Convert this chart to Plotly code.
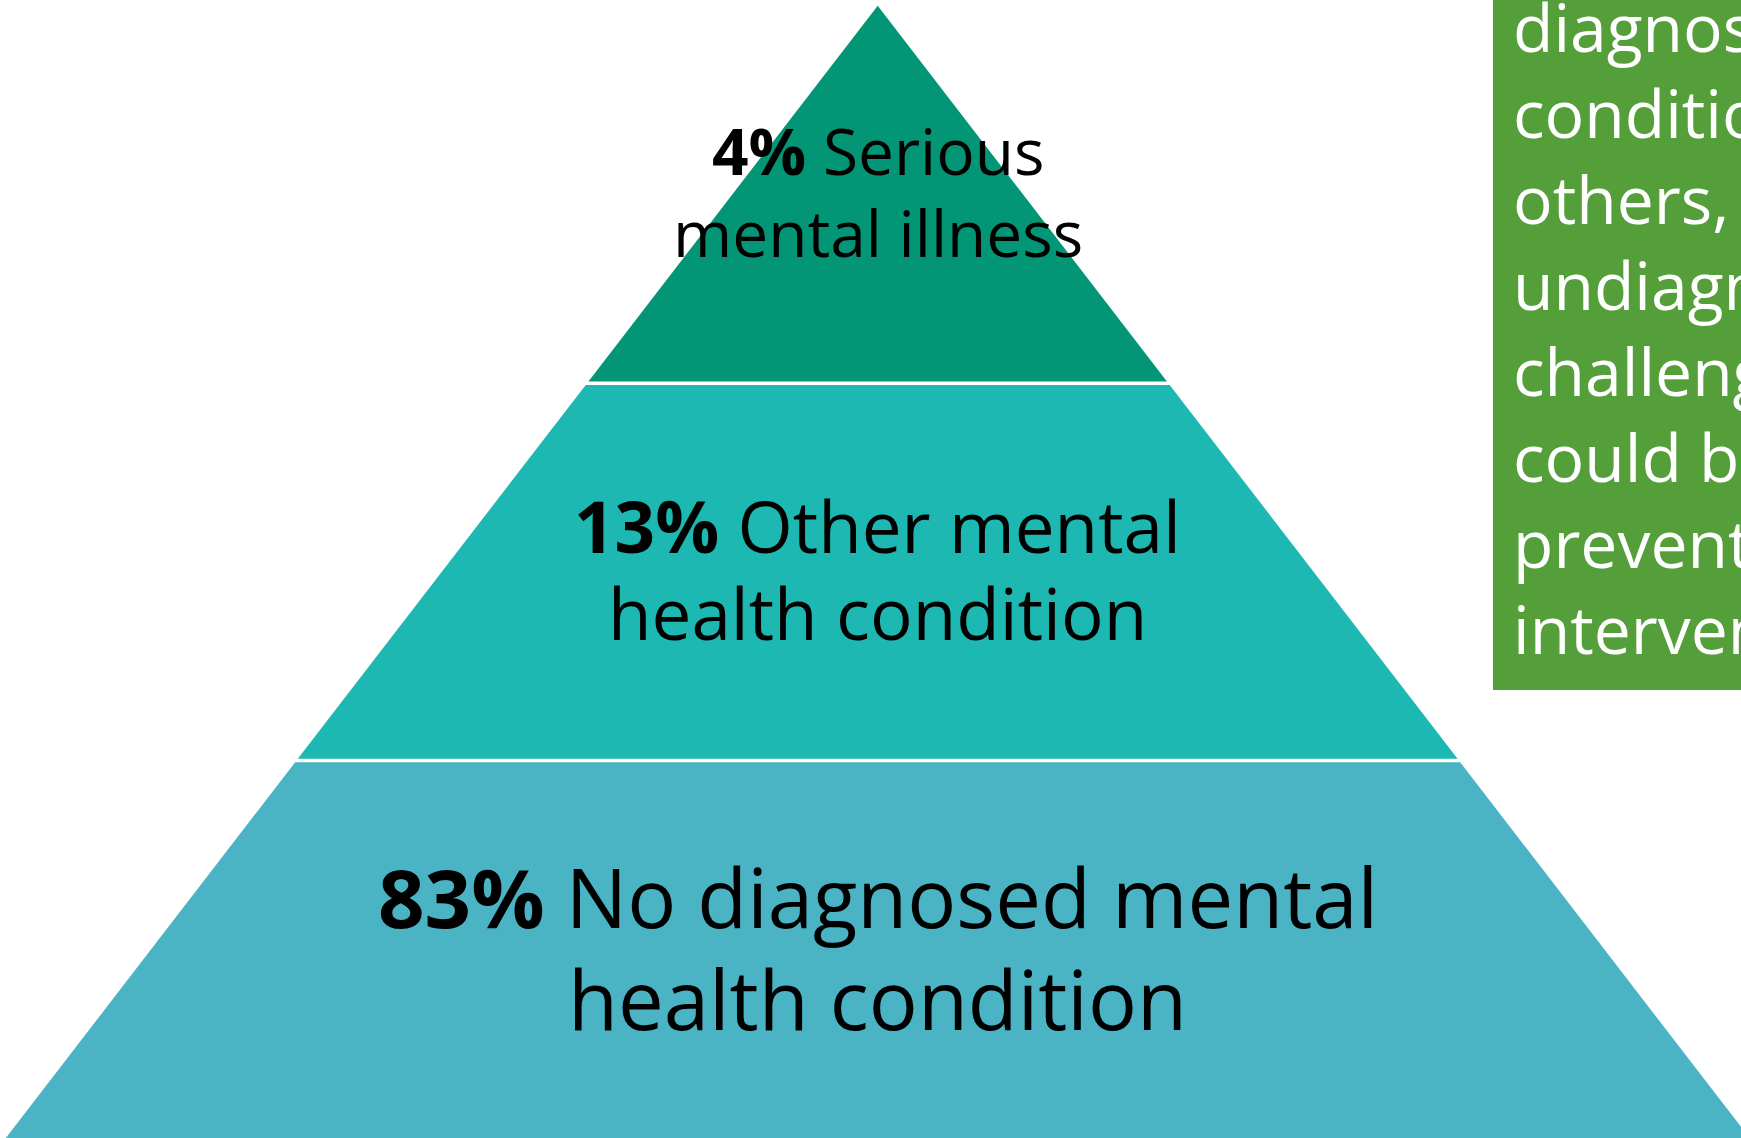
import plotly.graph_objects as go

# Population shares shown in each tier of the pyramid (top to bottom)
tier_pcts = ["4%", "13%", "83%"]
tier_first_lines = ["Serious", "Other mental", "No diagnosed mental"]
tier_second_lines = ["mental illness", "health condition", "health condition"]
tier_colors = ["#039676", "#1CB8B1", "#4AB4C5"]

# Call-out text in the green side panel
note_lines = ["diagnosed", "condition", "others,", "undiagnosed",
              "challenges", "could be", "prevented", "intervention"]

W, H = 1741, 1138
FONT = "Open Sans"

# Pyramid geometry (pixel-based axes)
apex_x, apex_y = 877.7, 5.7
tier_h = (H - apex_y) / 3
slope = 0.77  # half-width gained per unit of depth

def half_width(y):
    return (y - apex_y) * slope

fig = go.Figure()

for i, color in enumerate(tier_colors):
    y0 = apex_y + i * tier_h
    y1 = apex_y + (i + 1) * tier_h
    w0, w1 = half_width(y0), half_width(y1)
    fig.add_trace(go.Scatter(
        x=[apex_x - w0, apex_x + w0, apex_x + w1, apex_x - w1, apex_x - w0],
        y=[y0, y0, y1, y1, y0],
        mode="lines", fill="toself", fillcolor=color,
        line=dict(width=0, color=color), hoverinfo="skip", showlegend=False,
    ))

# White separators between tiers
for i in (1, 2):
    yb = apex_y + i * tier_h
    wb = half_width(yb) + 2
    fig.add_trace(go.Scatter(
        x=[apex_x - wb, apex_x + wb], y=[yb, yb], mode="lines",
        line=dict(color="white", width=3.5), hoverinfo="skip", showlegend=False,
    ))

# Tier labels: (font size, baseline of line 1, baseline of line 2)
label_style = [(64, 175, 257), (71, 553, 640), (81.5, 928, 1030)]
for pct, l1, l2, (size, b1, b2) in zip(tier_pcts, tier_first_lines,
                                       tier_second_lines, label_style):
    for txt, base in ((f"<b>{pct}</b> {l1}", b1), (l2, b2)):
        fig.add_annotation(
            x=apex_x, y=base - 0.388 * size, xref="x", yref="y",
            text=txt, showarrow=False, xanchor="center", yanchor="middle",
            font=dict(family=FONT, size=size, color="black"),
        )

# Green call-out panel
fig.add_shape(type="rect", xref="x", yref="y", x0=1493, x1=W + 20,
              y0=-20, y1=690, fillcolor="#549F3A", line=dict(width=0),
              layer="below")

note_size = 66
for k, txt in enumerate(note_lines):
    base = 52 + k * 86
    fig.add_annotation(
        x=1511, y=base - 0.388 * note_size, xref="x", yref="y",
        text=txt, showarrow=False, xanchor="left", yanchor="middle",
        font=dict(family=FONT, size=note_size, color="white"),
    )

fig.update_xaxes(range=[0, W], visible=False, fixedrange=True)
fig.update_yaxes(range=[H, 0], visible=False, fixedrange=True)
fig.update_layout(
    width=W, height=H, margin=dict(l=0, r=0, t=0, b=0),
    paper_bgcolor="white", plot_bgcolor="white", showlegend=False,
)

fig.write_html("out.html", config={"displayModeBar": False})
